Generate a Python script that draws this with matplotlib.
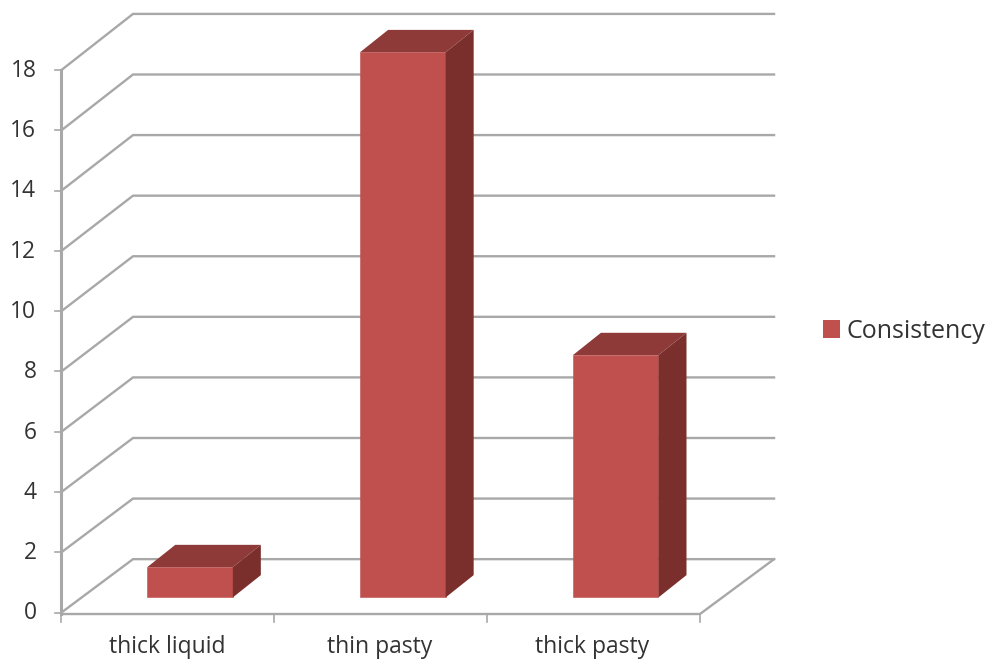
#!/usr/bin/env python3
import matplotlib
matplotlib.use('Agg')
import matplotlib.pyplot as plt
from matplotlib.patches import Patch, Polygon

# Chart data
categories = ['thick liquid', 'thin pasty', 'thick pasty']
values = [1, 18, 8]
y_ticks = [0, 2, 4, 6, 8, 10, 12, 14, 16, 18]
series_name = 'Consistency'

# Colours
FRONT = '#c0504d'
TOP = '#8e3a38'
SIDE = '#7a2f2d'
GRID = '#a8a8a8'
TEXT = '#333333'

# Fake 3D geometry, in data units (x = categories, y = value)
WALL_DX, WALL_DY = 0.336, 1.77
BACK_END = 3.348  # right end of the back wall
BAR_DX, BAR_DY = 0.104, 0.50
DEPTH_DX, DEPTH_DY = 0.1316, 0.74
BAR_W = 0.402
DEEP_SCALE = 1.005  # things further back are drawn slightly taller

plt.rcParams['font.family'] = ['Open Sans', 'DejaVu Sans']

W, H = 990, 659
fig = plt.figure(figsize=(W / 100, H / 100), dpi=100)
ax = fig.add_axes([0, 0, 1, 1])
x_px, y_px = 212.83, 30.14
ax.set_xlim(-61.5 / x_px, (W - 61.5) / x_px)
ax.set_ylim(-(H - 612.5) / y_px, 612.5 / y_px)
ax.axis('off')

n = len(categories)
top = y_ticks[-1]

# Gridlines run along the left wall and then the back wall
for v in y_ticks:
    back = v * DEEP_SCALE + WALL_DY
    ax.plot([0, WALL_DX, BACK_END], [v, back, back],
            color=GRID, lw=1.7, zorder=1, solid_joinstyle='miter')

# Floor and front axes
ax.plot([0, n, BACK_END], [-0.05, -0.05, WALL_DY], color=GRID, lw=1.7, zorder=1)
ax.plot([0, 0], [-0.05, top], color=GRID, lw=2.2, zorder=1)

# Tick marks and labels
for v in y_ticks:
    ax.plot([-0.03, 0], [v, v], color=GRID, lw=1.2, zorder=1)
    ax.text(-0.118, v - 0.03, str(v), ha='right', va='center', fontsize=16.4, color=TEXT)
for i in range(n + 1):
    ax.plot([i, i], [-0.05, -0.3], color=GRID, lw=1.2, zorder=1)
for i, name in enumerate(categories):
    ax.text(i + 0.495, -1.16, name, ha='center', va='center', fontsize=16.5, color=TEXT)

# Bars: front face plus top and side polygons
for i, v in enumerate(values):
    x0 = i + 0.5 - BAR_W / 2 + BAR_DX
    x1 = x0 + BAR_W
    y0 = BAR_DY
    h = v * DEEP_SCALE
    y1 = y0 + h
    ax.bar(x0, h, BAR_W, bottom=y0, align='edge', color=FRONT, edgecolor=FRONT,
           lw=0.4, zorder=3)
    ax.add_patch(Polygon([(x0, y1), (x1, y1), (x1 + DEPTH_DX, y1 + DEPTH_DY),
                          (x0 + DEPTH_DX, y1 + DEPTH_DY)], closed=True,
                         facecolor=TOP, lw=0, zorder=3))
    ax.add_patch(Polygon([(x1, y0), (x1 + DEPTH_DX, y0 + DEPTH_DY),
                          (x1 + DEPTH_DX, y1 + DEPTH_DY), (x1, y1)], closed=True,
                         facecolor=SIDE, lw=0, zorder=3))

# Legend
leg = ax.legend(handles=[Patch(facecolor=FRONT, lw=0, label=series_name)],
                loc='center left', bbox_to_anchor=(823 / W, 1 - 331 / H),
                frameon=False, fontsize=18, handlelength=0.66, handleheight=0.7,
                handletextpad=0.3, borderpad=0, borderaxespad=0, labelcolor=TEXT)

plt.savefig('out.png', dpi=100)
plt.close()
